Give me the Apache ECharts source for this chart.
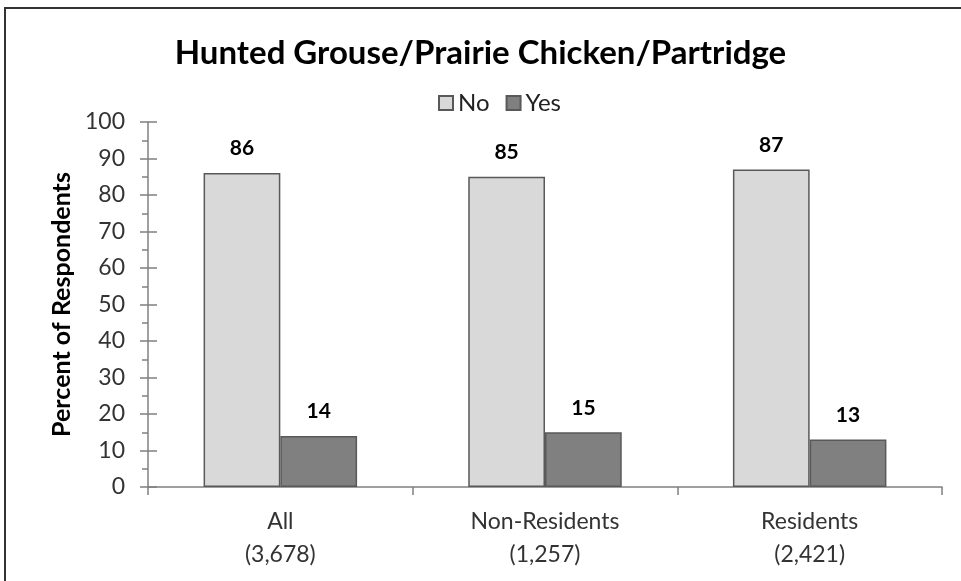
<!DOCTYPE html>
<html><head><meta charset="utf-8">
<script src="https://cdn.jsdelivr.net/npm/echarts@6/dist/echarts.min.js"></script>
<style>html,body{margin:0;padding:0;background:#fff}#c{width:961px;height:581px}</style>
</head><body><div id="c"></div>
<script>
const categories = ['All\n(3,678)', 'Non-Residents\n(1,257)', 'Residents\n(2,421)'];
const noValues = [86, 85, 87];
const yesValues = [14, 15, 13];
const seriesNames = ['No', 'Yes'];
const title = 'Hunted Grouse/Prairie Chicken/Partridge';
const yName = 'Percent of Respondents';

const FONT = 'Lato, "Open Sans", sans-serif';
const chart = echarts.init(document.getElementById('c'), null, {renderer: 'canvas'});
const grid = {left: 148, right: 19, top: 122, bottom: 94};
chart.setOption({
  animation: false,
  backgroundColor: '#fff',
  title: {text: title, left: 'center', top: 32, textStyle: {fontFamily: FONT, fontSize: 33, fontWeight: 'bold', color: '#000'}},
  legend: {
    data: seriesNames, top: 86, left: 433, itemWidth: 14, itemHeight: 14, itemGap: 16,
    textStyle: {fontFamily: FONT, fontSize: 24, color: '#222'}, icon: 'rect'
  },
  graphic: [{type: 'rect', shape: {x: 5, y: 8, width: 1100, height: 700}, style: {fill: 'none', stroke: '#333', lineWidth: 2}, z: 100}],
  grid: grid,
  xAxis: {
    type: 'category', data: categories,
    axisLine: {lineStyle: {color: '#808080', width: 1.5}},
    axisTick: {show: true, length: 8, lineStyle: {color: '#808080', width: 1.5}},
    axisLabel: {fontFamily: FONT, fontSize: 23, color: '#333', margin: 18, lineHeight: 33}
  },
  yAxis: [{
    type: 'value', min: 0, max: 100, interval: 10,
    name: yName, nameLocation: 'middle', nameGap: 74,
    nameTextStyle: {fontFamily: FONT, fontSize: 25, fontWeight: 'bold', color: '#000'},
    axisLine: {show: true, lineStyle: {color: '#808080', width: 1.5}},
    axisTick: {show: true, length: 8, lineStyle: {color: '#808080', width: 1.5}},
    minorTick: {show: true, splitNumber: 2, length: 6, lineStyle: {color: '#808080', width: 1.5}},
    axisLabel: {fontFamily: FONT, fontSize: 23, color: '#333', margin: 23},
    splitLine: {show: false}
  }, {
    type: 'value', min: 0, max: 100, interval: 10, position: 'left',
    axisLine: {show: false},
    axisTick: {show: true, inside: true, length: 9, lineStyle: {color: '#808080', width: 1.5}},
    axisLabel: {show: false}, splitLine: {show: false}
  }],
  series: [{
    name: seriesNames[0], type: 'bar', data: noValues, barGap: '0%', barCategoryGap: '42%',
    itemStyle: {color: '#d9d9d9', borderColor: '#595959', borderWidth: 1.5},
    label: {show: true, position: 'top', distance: 14, fontFamily: FONT, fontSize: 21, fontWeight: 'bold', color: '#000'}
  }, {
    name: seriesNames[1], type: 'bar', data: yesValues,
    itemStyle: {color: '#808080', borderColor: '#595959', borderWidth: 1.5},
    label: {show: true, position: 'top', distance: 14, fontFamily: FONT, fontSize: 21, fontWeight: 'bold', color: '#000'}
  }]
});
</script></body></html>
